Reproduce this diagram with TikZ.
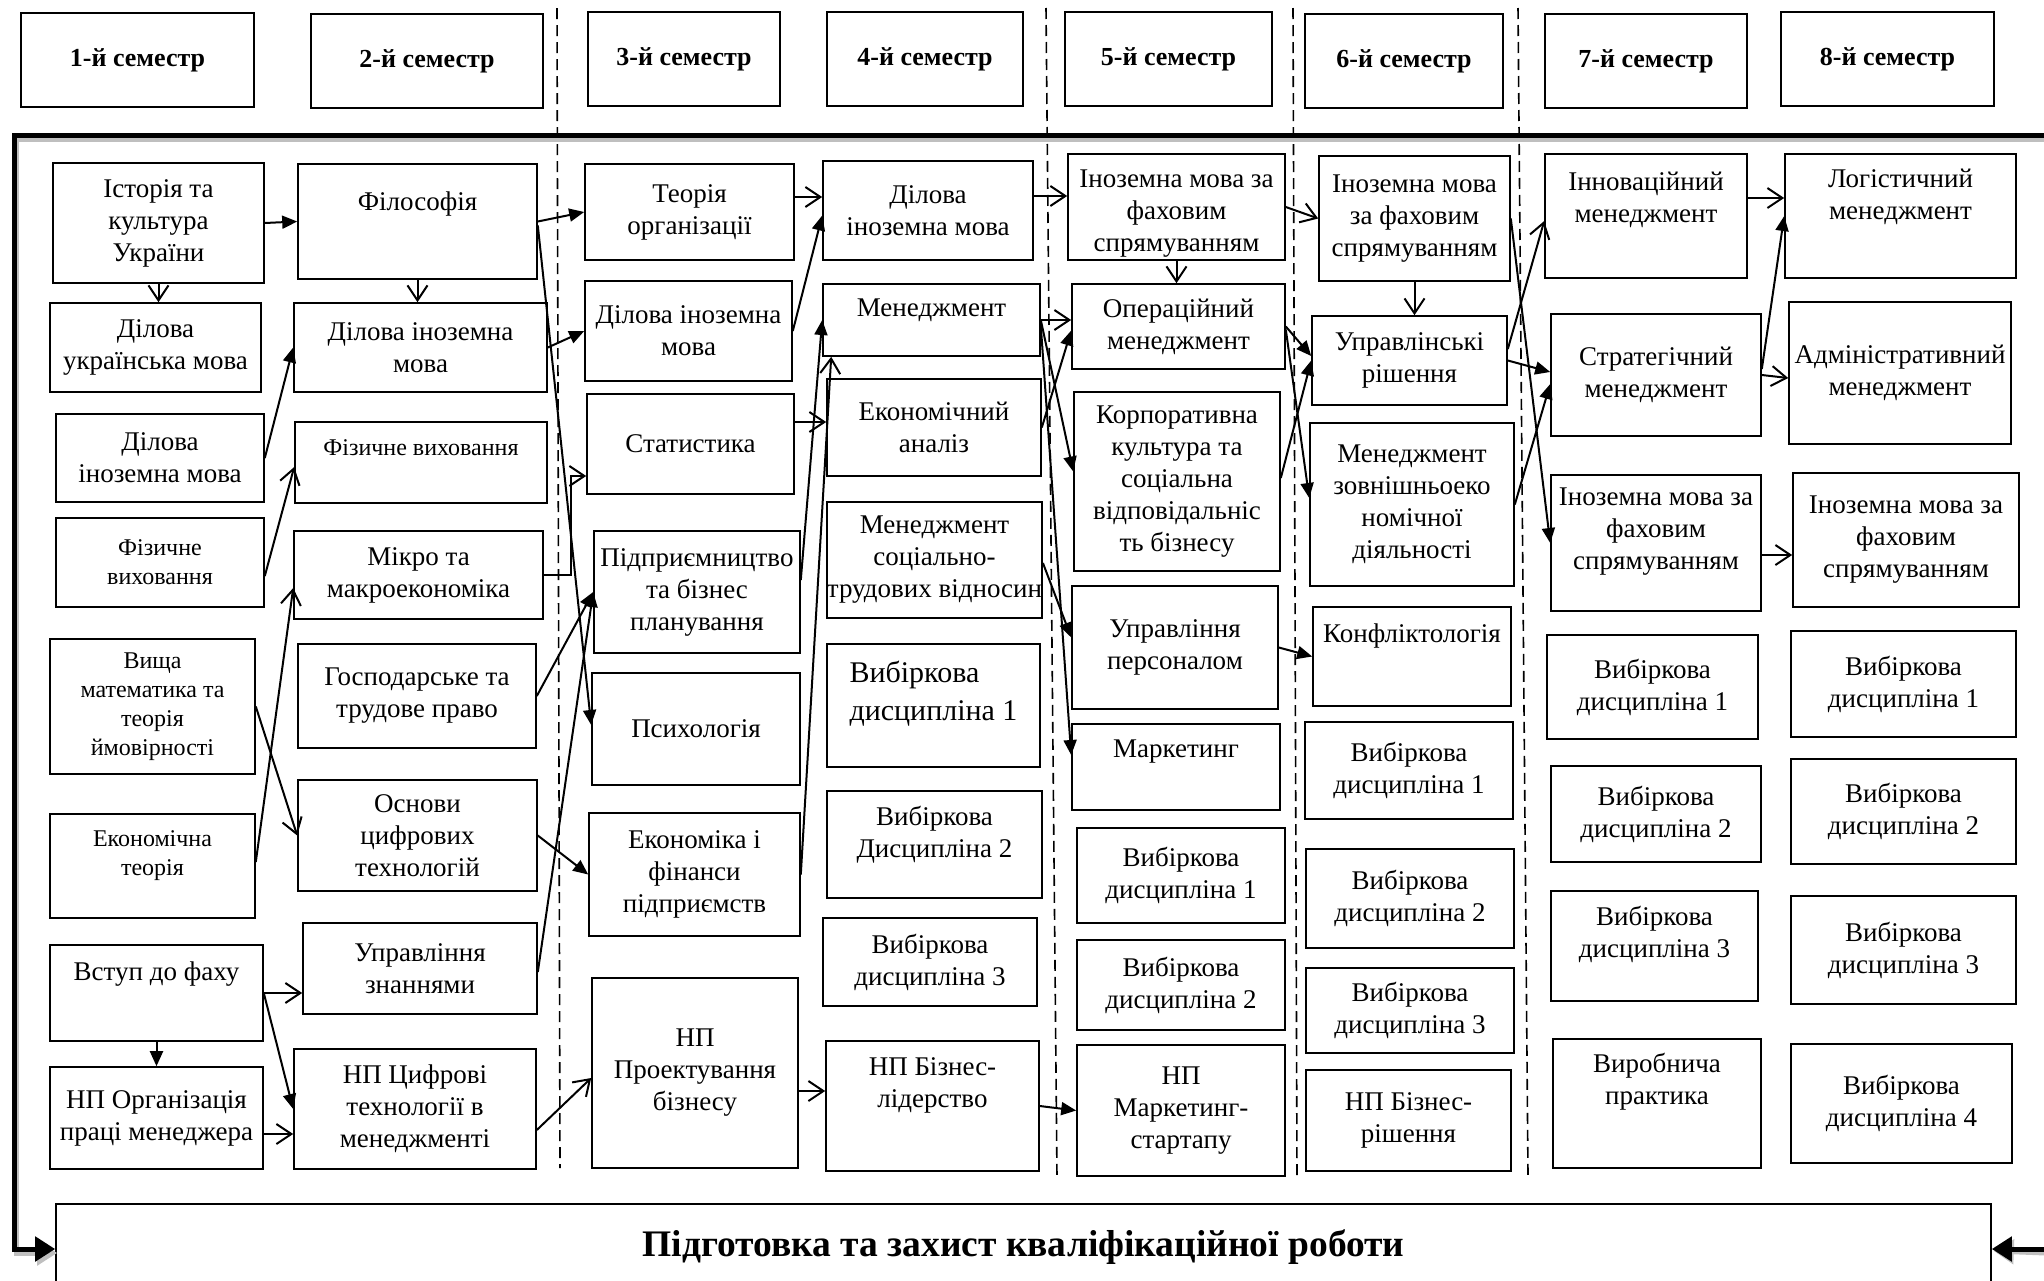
\documentclass[tikz,border=0pt]{standalone}
\usepackage{fontspec}
\setmainfont{Liberation Serif}
\usetikzlibrary{arrows.meta}

\newcommand{\crsfont}{\fontsize{27}{32}\selectfont}
\newcommand{\crssmall}{\fontsize{24}{29}\selectfont}
\newcommand{\crsbig}{\fontsize{30}{38}\selectfont}
\newcommand{\semfont}{\fontsize{26}{30}\selectfont\bfseries}
\newcommand{\thfont}{\fontsize{37.5}{44}\selectfont\bfseries}

\begin{document}
\begin{tikzpicture}[x=1pt,y=-1pt,
  course/.style={draw,line width=1.6pt,align=center,inner sep=0pt,font=\crsfont},
  small course/.style={course,font=\crssmall},
  sem/.style={course,font=\semfont},
  ctext/.style={align=center,inner sep=0pt,font=\crsfont},
  link/.style={line width=2pt,-{Triangle[length=15pt,width=13pt]}},
  prereq/.style={line width=2pt,-{Straight Barb[length=15pt,width=20pt]}},
  frame/.style={line width=5pt,-{Triangle[length=20pt,width=24pt]}},
  frame shadow/.style={frame,gray!50},
  sep/.style={line width=1.6pt,dash pattern=on 11pt off 6pt}]

  \clip (0,0) rectangle (2044,1280);

  % semester borders
  \draw[sep] (557,8) -- (560,1168);
  \draw[sep] (1046,8) -- (1057,1178);
  \draw[sep] (1293,8) -- (1297,1178);
  \draw[sep] (1518,8) -- (1528,1176);

  % semesters
  \node[sem,minimum width=233,minimum height=94] (s1) at (137.5,60) {1-й семестр};
  \node[sem,minimum width=232,minimum height=94] (s2) at (427,61) {2-й семестр};
  \node[sem,minimum width=192,minimum height=94] (s3) at (684,59) {3-й семестр};
  \node[sem,minimum width=196,minimum height=94] (s4) at (925,59) {4-й семестр};
  \node[sem,minimum width=207,minimum height=94] (s5) at (1168.5,59) {5-й семестр};
  \node[sem,minimum width=198,minimum height=94] (s6) at (1404,61) {6-й семестр};
  \node[sem,minimum width=202,minimum height=94] (s7) at (1646,61) {7-й семестр};
  \node[sem,minimum width=213,minimum height=94] (s8) at (1887.5,59) {8-й семестр};

  % 1st semester
  \node[course,minimum width=211,minimum height=120] (hist) at (158.5,223) {Історія та\\культура\\України};
  \node[course,minimum width=211,minimum height=89] (dum) at (155.5,347.5) {Ділова\\українська мова};
  \node[course,minimum width=208,minimum height=88] (dim1) at (160,458) {Ділова\\іноземна мова};
  \node[small course,minimum width=208,minimum height=89] (fv1) at (160,562.5) {Фізичне\\виховання};
  \node[small course,minimum width=205,minimum height=135] (vm) at (152.5,706.5) {Вища\\математика та\\теорія\\ймовірності};
  \node[course,minimum width=205,minimum height=104] (et) at (152.5,866) {};
  \node[ctext,font=\crssmall] (et-t) at ([yshift=10]et.center) {Економічна\\теорія};
  \node[course,minimum width=213,minimum height=96] (vstup) at (156.5,993) {};
  \node[ctext] (vstup-t) at ([yshift=19]vstup.center) {Вступ до фаху};
  \node[course,minimum width=213,minimum height=102] (nporg) at (156.5,1118) {НП Організація\\праці менеджера};

  % 2nd semester
  \node[course,minimum width=239,minimum height=115] (fil) at (417.5,221.5) {};
  \node[ctext] (fil-t) at ([yshift=17]fil.center) {Філософія};
  \node[course,minimum width=253,minimum height=89] (dim2) at (420.5,347.5) {Ділова іноземна\\мова};
  \node[course,minimum width=252,minimum height=81] (fv2) at (421,462.5) {};
  \node[ctext,font=\crssmall] (fv2-t) at ([yshift=15]fv2.center) {Фізичне виховання};
  \node[course,minimum width=249,minimum height=88] (mikro) at (418.5,575) {Мікро та\\макроекономіка};
  \node[course,minimum width=238,minimum height=104] (gosp) at (417,696) {Господарське та\\трудове право};
  \node[course,minimum width=239,minimum height=111] (osn) at (417.5,835.5) {Основи\\цифрових\\технологій};
  \node[course,minimum width=234,minimum height=91] (uz) at (420,968.5) {Управління\\знаннями};
  \node[course,minimum width=242,minimum height=120] (npcyf) at (415,1109) {НП Цифрові\\технології в\\менеджменті};

  % 3rd semester
  \node[course,minimum width=209,minimum height=96] (teor) at (689.5,212) {Теорія\\організації};
  \node[course,minimum width=207,minimum height=100] (dim3) at (688.5,331) {Ділова іноземна\\мова};
  \node[course,minimum width=207,minimum height=100] (stat) at (690.5,444) {Статистика};
  \node[course,minimum width=206,minimum height=122] (pidpr) at (697,592) {Підприємництво\\та бізнес\\планування};
  \node[course,minimum width=208,minimum height=112] (psyh) at (696,729) {Психологія};
  \node[course,minimum width=211,minimum height=123] (efp) at (694.5,874.5) {Економіка і\\фінанси\\підприємств};
  \node[course,minimum width=206,minimum height=190] (npproj) at (695,1073) {НП\\Проектування\\бізнесу};

  % 4th semester
  \node[course,minimum width=210,minimum height=99] (dim4) at (928,210.5) {Ділова\\іноземна мова};
  \node[course,minimum width=217,minimum height=72] (men) at (931.5,320) {};
  \node[ctext] (men-t) at ([yshift=10]men.center) {Менеджмент};
  \node[course,minimum width=214,minimum height=97] (ea) at (934,427.5) {Економічний\\аналіз};
  \node[course,minimum width=215,minimum height=116] (mstv) at (934.5,560) {Менеджмент\\соціально-\\трудових відносин};
  \node[course,minimum width=213,minimum height=123] (vd41) at (933.5,705.5) {};
  \node[ctext,font=\crsbig,align=left] (vd41-t) at ([yshift=12]vd41.center) {Вибіркова\\дисципліна 1};
  \node[course,minimum width=215,minimum height=107] (vd42) at (934.5,844.5) {};
  \node[ctext] (vd42-t) at ([yshift=10]vd42.center) {Вибіркова\\Дисципліна 2};
  \node[course,minimum width=214,minimum height=88] (vd43) at (930,962) {Вибіркова\\дисципліна 3};
  \node[course,minimum width=213,minimum height=130] (npbl) at (932.5,1106) {};
  \node[ctext] (npbl-t) at ([yshift=21]npbl.center) {НП Бізнес-\\лідерство};

  % 5th semester
  \node[course,minimum width=217,minimum height=106] (im5) at (1176.5,207) {};
  \node[ctext] (im5-t) at ([yshift=-7]im5.center) {Іноземна мова за\\фаховим\\спрямуванням};
  \node[course,minimum width=213,minimum height=85] (om) at (1178.5,326.5) {Операційний\\менеджмент};
  \node[course,minimum width=206,minimum height=179] (korp) at (1177,481.5) {Корпоративна\\культура та\\соціальна\\відповідальніс\\ть бізнесу};
  \node[course,minimum width=206,minimum height=123] (up) at (1175,647.5) {Управління\\персоналом};
  \node[course,minimum width=208,minimum height=86] (mark) at (1176,767) {};
  \node[ctext] (mark-t) at ([yshift=15]mark.center) {Маркетинг};
  \node[course,minimum width=208,minimum height=95] (vd51) at (1181,875.5) {Вибіркова\\дисципліна 1};
  \node[course,minimum width=208,minimum height=90] (vd52) at (1181,985) {Вибіркова\\дисципліна 2};
  \node[course,minimum width=208,minimum height=131] (npms) at (1181,1110.5) {НП\\Маркетинг-\\стартапу};

  % 6th semester
  \node[course,minimum width=191,minimum height=125] (im6) at (1414.5,218.5) {Іноземна мова\\за фаховим\\спрямуванням};
  \node[course,minimum width=195,minimum height=89] (ur) at (1409.5,360.5) {Управлінські\\рішення};
  \node[course,minimum width=204,minimum height=163] (mzed) at (1412,504.5) {Менеджмент\\зовнішньоеко\\номічної\\діяльності};
  \node[course,minimum width=198,minimum height=99] (konf) at (1412,656.5) {};
  \node[ctext] (konf-t) at ([yshift=21]konf.center) {Конфліктологія};
  \node[course,minimum width=208,minimum height=97] (vd61) at (1409,770.5) {Вибіркова\\дисципліна 1};
  \node[course,minimum width=208,minimum height=99] (vd62) at (1410,898.5) {Вибіркова\\дисципліна 2};
  \node[course,minimum width=208,minimum height=85] (vd63) at (1410,1010.5) {Вибіркова\\дисципліна 3};
  \node[course,minimum width=205,minimum height=101] (npbr) at (1408.5,1120.5) {НП Бізнес-\\рішення};

  % 7th semester
  \node[course,minimum width=202,minimum height=124] (inn) at (1646,216) {};
  \node[ctext] (inn-t) at ([yshift=16]inn.center) {Інноваційний\\менеджмент};
  \node[course,minimum width=210,minimum height=122] (strat) at (1656,375) {Стратегічний\\менеджмент};
  \node[course,minimum width=210,minimum height=136] (im7) at (1656,543) {};
  \node[ctext] (im7-t) at ([yshift=11]im7.center) {Іноземна мова за\\фаховим\\спрямуванням};
  \node[course,minimum width=211,minimum height=104] (vd71) at (1652.5,687) {Вибіркова\\дисципліна 1};
  \node[course,minimum width=210,minimum height=96] (vd72) at (1656,814) {Вибіркова\\дисципліна 2};
  \node[course,minimum width=207,minimum height=110] (vd73) at (1654.5,946) {};
  \node[ctext] (vd73-t) at ([yshift=12]vd73.center) {Вибіркова\\дисципліна 3};
  \node[course,minimum width=208,minimum height=129] (vp) at (1657,1103.5) {};
  \node[ctext] (vp-t) at ([yshift=22]vp.center) {Виробнича\\практика};

  % 8th semester
  \node[course,minimum width=231,minimum height=124] (log) at (1900.5,216) {};
  \node[ctext] (log-t) at ([yshift=19]log.center) {Логістичний\\менеджмент};
  \node[course,minimum width=222,minimum height=142] (adm) at (1900,373) {Адміністративний\\менеджмент};
  \node[course,minimum width=226,minimum height=134] (im8) at (1906,540) {Іноземна мова за\\фаховим\\спрямуванням};
  \node[course,minimum width=225,minimum height=106] (vd81) at (1903.5,684) {Вибіркова\\дисципліна 1};
  \node[course,minimum width=225,minimum height=105] (vd82) at (1903.5,811.5) {Вибіркова\\дисципліна 2};
  \node[course,minimum width=225,minimum height=108] (vd83) at (1903.5,950) {Вибіркова\\дисципліна 3};
  \node[course,minimum width=221,minimum height=119] (vd84) at (1901.5,1103.5) {Вибіркова\\дисципліна 4};

  \node[course,font=\thfont,minimum width=1935,minimum height=86] (thesis) at (1023.5,1247) {Підготовка та захист кваліфікаційної роботи};

  % 1 -> 2
  \draw[link] (hist.east) -- (fil.west);
  \draw[prereq] (hist.south) -- (hist.south |- dum.north);
  \draw[prereq] (fil.south) -- (fil.south |- dim2.north);
  \draw[link] (dim1.east) -- (dim2.west);
  \draw[prereq] ([yshift=-13.5]fv1.east) -- ([yshift=-4.5]fv2.west);
  \draw[prereq] ([yshift=4]et.east) -- ([yshift=-13]mikro.west);
  \draw[prereq] (vm.east) -- (osn.west);
  \draw[prereq] (vstup.east) -- (vstup.east -| uz.west);
  \draw[link] (vstup.east) -- (npcyf.west);
  \draw[link] (vstup.south) -- (vstup.south |- nporg.north);
  \draw[prereq] ([yshift=-16]nporg.east) -- ([yshift=-16]nporg.east -| npcyf.west);

  % 2 -> 3
  \draw[link] (fil.east) -- (teor.west);
  \draw[link] ([yshift=-4]fil.east) -- ([yshift=4]psyh.west);
  \draw[link] (dim2.east) -- (dim3.west);
  \draw[prereq] (mikro.east) -- ++(27,0) |- ([yshift=-32]stat.west);
  \draw[link] (gosp.east) -- (pidpr.west);
  \draw[link] (osn.east) -- (efp.west);
  \draw[link] ([yshift=-3.5]uz.east) -- (pidpr.west);
  \draw[prereq] ([yshift=-21]npcyf.east) -- ([yshift=-5]npproj.west);

  % 3 -> 4
  \draw[prereq] ([yshift=15]teor.east) -- ([yshift=15]teor.east -| dim4.west);
  \draw[link] (dim3.east) -- ([yshift=-5]dim4.west);
  \draw[prereq] ([yshift=22]stat.east) -- ([yshift=22]stat.east -| ea.west);
  \draw[link] ([yshift=12]pidpr.east) -- (men.west);
  \draw[prereq] (efp.east) -- ([xshift=9]men.south west);
  \draw[prereq] ([yshift=-18]npproj.east) -- ([yshift=-18]npproj.east -| npbl.west);

  % 4 -> 5
  \draw[prereq] ([yshift=14.5]dim4.east) -- ([yshift=14.5]dim4.east -| im5.west);
  \draw[prereq] (men.east) -- (men.east -| om.west);
  \draw[link] (ea.east) -- ([yshift=-4]om.west);
  \draw[link] (men.east) -- ([yshift=10]korp.west);
  \draw[link] ([yshift=-6]men.east) -- ([yshift=12]mark.west);
  \draw[link] ([yshift=-3]mstv.east) -- ([yshift=10]up.west);
  \draw[link] (npbl.east) -- (npms.west);

  % 5 -> 6
  \draw[prereq] (im5.east) -- (im6.west);
  \draw[prereq] (im5.south) -- (im5.south |- om.north);
  \draw[link] (om.east) -- ([yshift=4.5]ur.west);
  \draw[link] ([yshift=3.5]korp.east) -- (ur.west);
  \draw[link] ([yshift=-3]om.east) -- ([yshift=6.5]mzed.west);
  \draw[link] (up.east) -- (konf.west);
  \draw[prereq] (im6.south) -- (im6.south |- ur.north);

  % 6 -> 7
  \draw[link] (im6.east) -- (im7.west);
  \draw[prereq] ([yshift=11.5]ur.east) -- ([yshift=-5]inn.west);
  \draw[link] (ur.east) -- ([yshift=3]strat.west);
  \draw[link] (mzed.east) -- ([yshift=-9]strat.west);

  % 7 -> 8
  \draw[prereq] ([yshift=18]inn.east) -- ([yshift=18]inn.east -| log.west);
  \draw[link] ([yshift=6]strat.east) -- (log.west);
  \draw[prereq] (strat.east) -- ([yshift=-5]adm.west);
  \draw[prereq] ([yshift=-12]im7.east) -- ([yshift=-12]im7.east -| im8.west);

  % outer frame into the thesis
  \coordinate (topR) at (2044,135);
  \coordinate (corner) at (14,135);
  \coordinate (botR) at (2044,1249);
  \draw[frame shadow] ([shift={(2,4)}]topR) -- ([shift={(2,4)}]corner) |- ([shift={(2,6)}]thesis.west);
  \draw[frame shadow] ([shift={(2,4)}]botR) -- ([shift={(2,4)}]thesis.east);
  \draw[frame] (topR) -- (corner) |- ([yshift=-2]thesis.west);
  \draw[frame] (botR) -- (botR -| thesis.east);
\end{tikzpicture}
\end{document}
